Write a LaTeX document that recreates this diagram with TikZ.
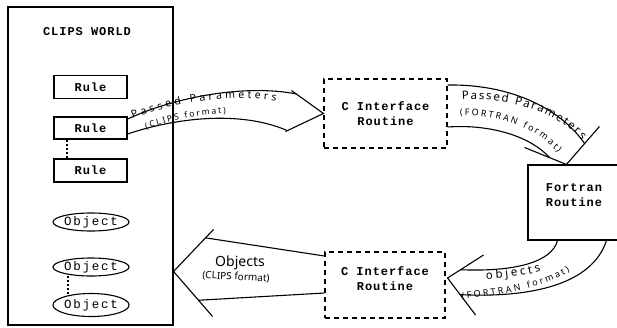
\documentclass[tikz,border=0pt]{standalone}
\usepackage{fontspec}
\setmainfont{Liberation Serif}
\newfontfamily\boxfont[LetterSpace=8]{Liberation Mono}
\newfontfamily\objfont[LetterSpace=14]{Liberation Mono}
\newfontfamily\handfont{Noto Sans}
\usetikzlibrary{calc,shapes.geometric,decorations.text}

\tikzset{
  boxtext/.style={font=\boxfont\bfseries\fontsize{12}{15}\selectfont},
  plainbox/.style={draw, rectangle, inner sep=0pt, boxtext, align=center},
  ifacebox/.style={plainbox, dash pattern=on 5pt off 4pt},
  objblob/.style={draw, ellipse, inner sep=0pt, minimum width=73pt,
    minimum height=18pt, font=\objfont\fontsize{12.5}{14}\selectfont},
  dotline/.style={line width=2pt, dash pattern=on 2pt off 2.2pt},
  alongpath/.style={decorate, decoration={text along path,
    text align={fit to path}, text={#1}}},
}

\begin{document}
\begin{tikzpicture}[x=1pt, y=-1pt, line width=1.1pt]
\useasboundingbox (0,0) rectangle (617,327);
\fill[white] (0,0) rectangle (617,327);

% the CLIPS world with its rules and objects
\node[plainbox, minimum width=165pt, minimum height=318pt] (world) at (90.5,166) {};
\node[boxtext] (title) at (87,32) {CLIPS WORLD};
\node[plainbox, minimum width=73pt, minimum height=23pt] (rule1) at (90.5,87) {Rule};
\node[plainbox, minimum width=73pt, minimum height=22pt] (rule2) at (90.5,128) {Rule};
\node[plainbox, minimum width=73pt, minimum height=23pt] (rule3) at (90.5,170.5) {Rule};
\draw[dotline] ([xshift=14pt]rule2.south west) -- ([xshift=14pt]rule3.north west);

\node[objblob] (obj1) at (91,222) {Object};
\node[objblob] (obj2) at (91,267) {Object};
\node[objblob, minimum height=23pt] (obj3) at (91,305) {Object};
\draw[dotline] ($(obj2.south)+(-23,-1)$) -- ($(obj3.north)+(-23,2)$);

% interface routines and the Fortran routine
\node[ifacebox, minimum width=123pt, minimum height=69pt] (cif1) at (385.5,113.5) {C Interface\\Routine};
\node[ifacebox, minimum width=120pt, minimum height=66pt, text depth=13pt] (cif2) at (385,285) {C Interface\\Routine};
\node[plainbox, minimum width=92pt, minimum height=75pt, text depth=15pt] (fort) at (574,202.5) {Fortran\\Routine};

% band: rule -> C interface
\coordinate (b1tip) at (cif1.west);
\coordinate (b1u) at ($(b1tip)+(-32,-23)$);
\coordinate (b1l) at ($(b1tip)+(-38,18)$);
\draw (b1u) -- (b1tip) -- (b1l);
\draw ($(rule2.east)+(0,-9)$) .. controls (175,97) and (245,84) .. ($(b1u)!0.15!(b1tip)$);
\draw ($(rule2.east)+(0,6)$) .. controls (175,118) and (240,110) .. ($(b1l)!0.05!(b1tip)$);
\path[alongpath={|\handfont\fontsize{10.5}{10.5}\selectfont|Passed Parameters}]
  (133,119) .. controls (175,101) and (235,94) .. (276,101);
\path[alongpath={|\handfont\fontsize{8.5}{8.5}\selectfont|(CLIPS format)}]
  (146,129) .. controls (172,121) and (200,114) .. (226,113);

% band: C interface -> Fortran routine
\coordinate (b2tip) at ($(fort.north west)+(39,0)$);
\coordinate (b2u) at ($(b2tip)+(33,-38)$);
\coordinate (b2l) at ($(b2tip)+(-42,-17)$);
\draw (b2u) -- (b2tip) -- (b2l);
\draw ($(cif1.east)+(0,-28.5)$) .. controls (510,84) and (560,108) .. ($(b2u)!0.45!(b2tip)$);
\draw ($(cif1.east)+(0,13.5)$) .. controls (490,124) and (530,136) .. ($(b2l)!0.6!(b2tip)$);
\path[alongpath={|\handfont\fontsize{11.5}{11.5}\selectfont|Passed Parameters}]
  (462,100) .. controls (505,97) and (554,110) .. (582,140);
\path[alongpath={|\handfont\fontsize{9}{9}\selectfont|(FORTRAN format)}]
  (460,116) .. controls (498,114) and (536,127) .. (558,153);

% band: Fortran routine -> C interface
\coordinate (b3tip) at ($(cif2.east)+(2,-7)$);
\coordinate (b3u) at ($(b3tip)+(36,-23)$);
\coordinate (b3l) at ($(b3tip)+(28,37)$);
\draw (b3u) -- (b3tip) -- (b3l);
\draw ($(fort.south west)+(30,0)$) .. controls (552,262) and (515,272) .. ($(b3u)!0.64!(b3tip)$);
\draw ($(fort.south west)+(79,0)$) .. controls (592,285) and (530,298) .. ($(b3l)!0.55!(b3tip)$);
\path[alongpath={|\handfont\fontsize{11.5}{11.5}\selectfont|objects}]
  (486,279) .. controls (505,278) and (525,276) .. (541,271);
\path[alongpath={|\handfont\fontsize{9}{9}\selectfont|(FORTRAN format)}]
  (462,299) .. controls (500,295) and (543,289) .. (570,271);

% band: C interface -> CLIPS world
\coordinate (b4tip) at ($(world.north east)+(0,265)$);
\coordinate (b4u) at ($(b4tip)+(40,-42)$);
\coordinate (b4l) at ($(b4tip)+(39,45)$);
\draw (b4u) -- (b4tip) -- (b4l);
\draw ($(cif2.west)+(0,-29)$) -- ($(b4u)!0.2!(b4tip)$);
\draw ($(cif2.west)+(0,8)$) -- ($(b4l)!0.36!(b4tip)$);
\node[font=\handfont\fontsize{14}{14}\selectfont] (lab4a) at (240,263) {Objects};
\node[font=\handfont\fontsize{10}{10}\selectfont, rotate=-3] (lab4b) at (236,277) {(CLIPS format)};
\end{tikzpicture}
\end{document}
